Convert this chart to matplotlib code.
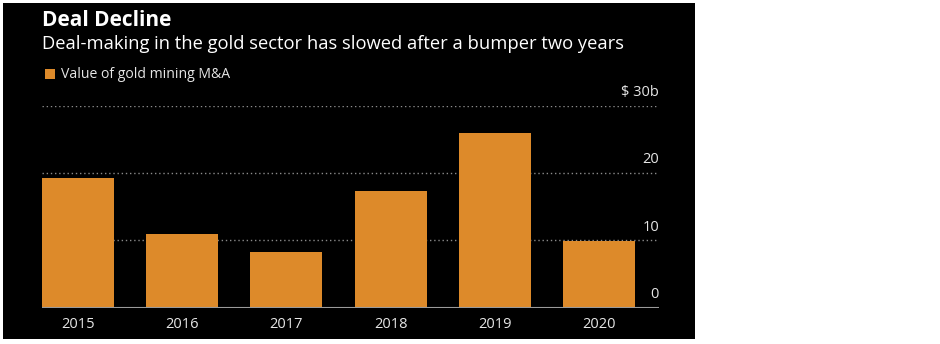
import matplotlib
matplotlib.use("Agg")
import matplotlib.pyplot as plt
from matplotlib.patches import Rectangle
import matplotlib.transforms as mtransforms

years = ["2015", "2016", "2017", "2018", "2019", "2020"]
deal_value = [19.2, 11.0, 8.2, 17.3, 26.0, 9.9]  # $ billions
y_ticks = [0, 10, 20, 30]
y_tick_labels = ["0", "10", "20", "$ 30b"]

BAR_COLOR = "#DD8A2A"
GRID_COLOR = "#8a8a8a"
TEXT_COLOR = "#e6e6e6"

plt.rcParams["font.family"] = ["Open Sans", "DejaVu Sans"]

fig = plt.figure(figsize=(9.4, 3.44), dpi=100, facecolor="white")

# black card behind the chart
fig.patches.append(Rectangle((3 / 940, 5 / 344), 692 / 940, 336 / 344,
                             transform=fig.transFigure, facecolor="black",
                             edgecolor="none", zorder=-5))

ax = fig.add_axes([42 / 940, 36.3 / 344, 617 / 940, 202 / 344])
ax.set_facecolor("none")

x = list(range(len(years)))
ax.bar(x, deal_value, width=0.692, color=BAR_COLOR, zorder=2)

ax.set_xlim(-0.346, 5.577)
ax.set_ylim(0, 30)

for t in y_ticks[1:]:
    ax.axhline(t, color=GRID_COLOR, lw=1.0, ls=(0, (1, 2)), zorder=1)
ax.axhline(0, color="#9a9a9a", lw=1.5, zorder=3)

# y labels sit just above their gridlines, flush right
trans = mtransforms.blended_transform_factory(ax.transAxes, ax.transData)
offset = mtransforms.ScaledTranslation(0, 4 / 72, fig.dpi_scale_trans)
for t, lab in zip(y_ticks, y_tick_labels):
    ax.text(1.0, t, lab, transform=trans + offset, ha="right", va="bottom",
            color=TEXT_COLOR, fontsize=10.5)

ax.set_xticks(x)
ax.set_xticklabels(years, color=TEXT_COLOR, fontsize=10.5)
ax.tick_params(axis="x", length=0, pad=7)
ax.set_yticks([])
for s in ax.spines.values():
    s.set_visible(False)

fig.text(42 / 940, 1 - 20.5 / 344, "Deal Decline", color="white",
         fontsize=15, fontweight="bold", va="center")
fig.text(42 / 940, 1 - 44 / 344,
         "Deal-making in the gold sector has slowed after a bumper two years",
         color="white", fontsize=13.2, va="center")

fig.patches.append(Rectangle((45 / 940, 1 - 79 / 344), 10 / 940, 10 / 344,
                             transform=fig.transFigure, facecolor=BAR_COLOR,
                             edgecolor="none", zorder=2))
fig.text(61 / 940, 1 - 74 / 344, "Value of gold mining M&A",
         color=TEXT_COLOR, fontsize=10.1, va="center")

fig.savefig("out.png", dpi=100, facecolor="white")
